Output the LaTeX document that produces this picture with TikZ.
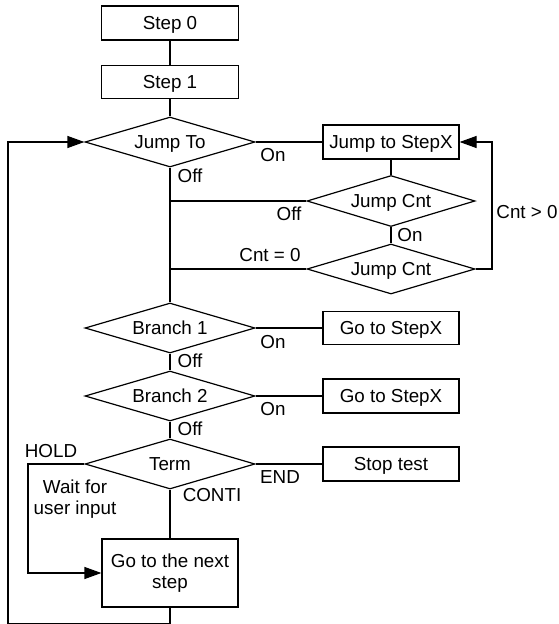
\documentclass[tikz,border=0pt]{standalone}
\usepackage{fontspec}
\setmainfont{Liberation Sans}
\usetikzlibrary{shapes.geometric,arrows.meta}
\begin{document}
\begin{tikzpicture}[x=1pt,y=-1pt,
  every node/.style={font=\fontsize{18.8}{21}\selectfont},
  box/.style={draw,line width=1.2pt,minimum width=136pt,minimum height=34pt,inner sep=0pt,align=center,text depth=0pt},
  box2/.style={draw,line width=1.2pt,minimum width=136pt,minimum height=68pt,inner sep=0pt,align=center},
  dia/.style={draw,diamond,aspect=3.4,inner sep=0pt,line width=1.2pt,minimum width=170pt,minimum height=50pt,text depth=0pt},
  lbl/.style={inner sep=0pt,align=center},
  ln/.style={line width=1.2pt},
  arr/.style={line width=1.2pt,-{Triangle[length=17pt,width=12pt]}}]
\useasboundingbox (0,0) rectangle (558,624);
% boxes
\node[box,minimum width=137pt] (s0) at (170,23) {Step 0};
\node[box,minimum width=137pt,minimum height=33pt] (s1) at (170,82) {Step 1};
\node[dia] (jt) at (170,142) {Jump To};
\node[box] (jsx) at (391,142) {Jump to StepX};
\node[dia,minimum width=168pt,minimum height=51pt] (jc1) at (391,201) {Jump Cnt};
\node[dia,minimum width=168pt] (jc2) at (391,269) {Jump Cnt};
\node[dia] (b1) at (170,328) {Branch 1};
\node[box,minimum height=33pt] (g1) at (391,328) {Go to StepX};
\node[dia] (b2) at (170,396) {Branch 2};
\node[box] (g2) at (391,396) {Go to StepX};
\node[dia] (term) at (170,464) {Term};
\node[box] (st) at (391,464) {Stop test};
\node[box2] (nx) at (170,573) {Go to the next\\step};
% coordinates
\coordinate (j1) at (170,201);
\coordinate (j2) at (170,269);
\coordinate (cr) at (492,269);
\coordinate (hl) at (28,464);
\coordinate (bl) at (170,623.8);
\coordinate (bl2) at (8,623.8);
% connectors
\draw[ln] (s0) -- (s1);
\draw[ln] (s1) -- (jt);
\draw[ln] (jt.east) -- (jsx.west);
\draw[ln] (jt.south) -- (b1.north);
\draw[ln] (jsx) -- (jc1);
\draw[ln] (jc1.south) -- (jc2.north);
\draw[ln] (jc1.west) -- (j1);
\draw[ln] (jc2.west) -- (j2);
\draw[arr] (jc2.east) -- (cr) |- (jsx.east);
\draw[ln] (b1.east) -- (g1.west);
\draw[ln] (b1.south) -- (b2.north);
\draw[ln] (b2.east) -- (g2.west);
\draw[ln] (b2.south) -- (term.north);
\draw[ln] (term.east) -- (st.west);
\draw[ln] (term.south) -- (nx.north);
\draw[arr] (term.west) -- (hl) |- (nx.west);
\draw[arr] (nx.south) -- (bl) -- (bl2) |- (jt.west);
% labels
\node[lbl] (l1) at (273,155) {On};
\node[lbl] (l2) at (190,176) {Off};
\node[lbl] (l3) at (289,214) {Off};
\node[lbl] (l4) at (410,235) {On};
\node[lbl] (l5) at (270,255) {Cnt = 0};
\node[lbl] (l6) at (527,212) {Cnt > 0};
\node[lbl] (l7) at (273,342) {On};
\node[lbl] (l8) at (190,361) {Off};
\node[lbl] (l9) at (273,409) {On};
\node[lbl] (l10) at (190,429) {Off};
\node[lbl] (l11) at (51,451) {HOLD};
\node[lbl] (l12) at (280,477) {END};
\node[lbl] (l13) at (212,495) {CONTI};
\node[lbl] (l14) at (75,499) {Wait for\\user input};
\end{tikzpicture}
\end{document}
